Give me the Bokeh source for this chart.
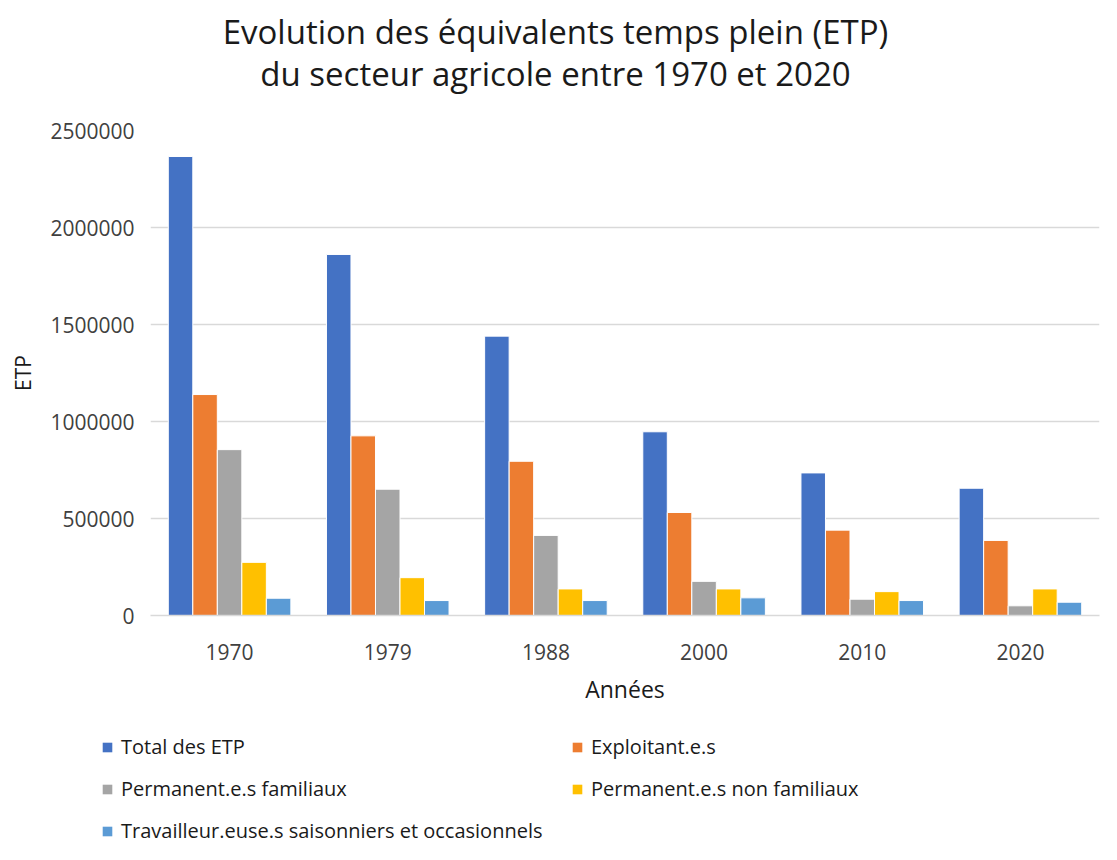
from bokeh.plotting import figure
from bokeh.models import (ColumnDataSource, FactorRange, Range1d, Legend, LegendItem,
                          Label, FixedTicker, BasicTickFormatter)
from bokeh.layouts import column
from bokeh.transform import dodge
from bokeh.embed import file_html
from bokeh.resources import INLINE

years = ["1970", "1979", "1988", "2000", "2010", "2020"]
total_etp = [2366000, 1861000, 1440000, 947000, 735000, 656000]
exploitants = [1139000, 926000, 795000, 531000, 440000, 387000]
perm_familiaux = [855000, 651000, 413000, 176000, 84000, 50000]
perm_non_familiaux = [274000, 195000, 137000, 137000, 123000, 137000]
saisonniers = [89000, 77000, 77000, 91000, 77000, 68500]

series_names = ["Total des ETP", "Exploitant.e.s", "Permanent.e.s familiaux",
                "Permanent.e.s non familiaux",
                "Travailleur.euse.s saisonniers et occasionnels"]
series_keys = ["total", "expl", "pfam", "pnfam", "sais"]
colors = ["#4472C4", "#ED7D31", "#A5A5A5", "#FFC000", "#5B9BD5"]
y_ticks = [0, 500000, 1000000, 1500000, 2000000, 2500000]
title_lines = ["Evolution des équivalents temps plein (ETP)",
               "du secteur agricole entre 1970 et 2020"]

source = ColumnDataSource(dict(year=years, total=total_etp, expl=exploitants,
                               pfam=perm_familiaux, pnfam=perm_non_familiaux,
                               sais=saisonniers))

FONT = "Open Sans"
W = 1101
TITLE_H = 100
MAIN_H = 607
LEG_H = 137


def strip(h, **kw):
    f = figure(width=W, height=h, output_backend="svg", toolbar_location=None,
               x_axis_location=None, y_axis_location=None,
               min_border_left=0, min_border_right=0, min_border_top=0,
               min_border_bottom=0, **kw)
    f.frame_align = False
    f.outline_line_color = None
    f.xgrid.grid_line_color = None
    f.ygrid.grid_line_color = None
    return f


# ---- title strip
pt = strip(TITLE_H, x_range=Range1d(0, 1), y_range=Range1d(0, 1))
for txt, yy in zip(title_lines, [69, 27]):
    pt.add_layout(Label(x=555, y=yy, x_units="screen", y_units="screen", text=txt,
                        text_align="center", text_baseline="middle",
                        text_font=FONT, text_font_size="33px",
                        text_color="#1a1a1a"))

# ---- main chart
p = figure(x_range=FactorRange(*years, range_padding=0),
           y_range=Range1d(0, 2500000),
           width=W, height=MAIN_H, output_backend="svg", toolbar_location=None,
           min_border_left=150, min_border_right=2, min_border_top=30,
           min_border_bottom=90)
p.frame_align = False
p.outline_line_color = None
p.background_fill_color = "white"
p.border_fill_color = "white"

bw = 0.155
for i, (k, c) in enumerate(zip(series_keys, colors)):
    p.vbar(x=dodge("year", (i - 2) * bw, range=p.x_range), top=k, width=bw,
           source=source, fill_color=c, line_color="white", line_width=1)

p.yaxis.ticker = FixedTicker(ticks=y_ticks)
p.yaxis.formatter = BasicTickFormatter(use_scientific=False)
p.yaxis.axis_line_color = None
p.yaxis.major_tick_line_color = None
p.yaxis.minor_tick_line_color = None
p.yaxis.major_label_text_font = FONT
p.yaxis.major_label_text_font_size = "21px"
p.yaxis.major_label_text_color = "#404040"
p.yaxis.major_label_standoff = 10
p.yaxis.axis_label = "ETP"
p.yaxis.axis_label_text_font = FONT
p.yaxis.axis_label_text_font_size = "21px"
p.yaxis.axis_label_text_font_style = "normal"
p.yaxis.axis_label_text_color = "#1a1a1a"
p.yaxis.axis_label_standoff = 10

p.xaxis.axis_line_color = "#d9d9d9"
p.xaxis.axis_line_width = 1.5
p.xaxis.major_tick_line_color = None
p.xaxis.minor_tick_line_color = None
p.xaxis.major_label_text_font = FONT
p.xaxis.major_label_text_font_size = "21px"
p.xaxis.major_label_text_color = "#404040"
p.xaxis.major_label_standoff = 22
p.xaxis.axis_label = "Années"
p.xaxis.axis_label_text_font = FONT
p.xaxis.axis_label_text_font_size = "23px"
p.xaxis.axis_label_text_font_style = "normal"
p.xaxis.axis_label_text_color = "#1a1a1a"
p.xaxis.axis_label_standoff = 10

p.xgrid.grid_line_color = None
p.ygrid.grid_line_color = "#d9d9d9"
p.ygrid.grid_line_width = 1.5

# ---- legend strip: swatch renderers share the data, but this strip's x range
# holds no year factor, so no bar is drawn here -- only the legend entries
pl = strip(LEG_H, x_range=FactorRange(factors=["legend"]), y_range=Range1d(0, 1))
swatches = [pl.vbar(x="year", top=k, width=0.1, source=source,
                    fill_color=c, line_color=None)
            for k, c in zip(series_keys, colors)]

# column-major with 2 columns -> reorder so rows read like the reference
order = [0, 2, 4, 1, 3]
items = [LegendItem(label=series_names[j], renderers=[swatches[j]]) for j in order]
legend = Legend(items=items, orientation="vertical", ncols=2, nrows=3,
                location=(101, 0), label_text_font=FONT, label_text_font_size="20px",
                label_text_color="#1a1a1a", glyph_width=12, glyph_height=12,
                label_width=435, label_standoff=8, spacing=15, padding=0,
                margin=0, border_line_color=None, background_fill_alpha=0)
pl.add_layout(legend, "center")

open("out.html", "w").write(file_html(column(pt, p, pl, spacing=0), INLINE))
